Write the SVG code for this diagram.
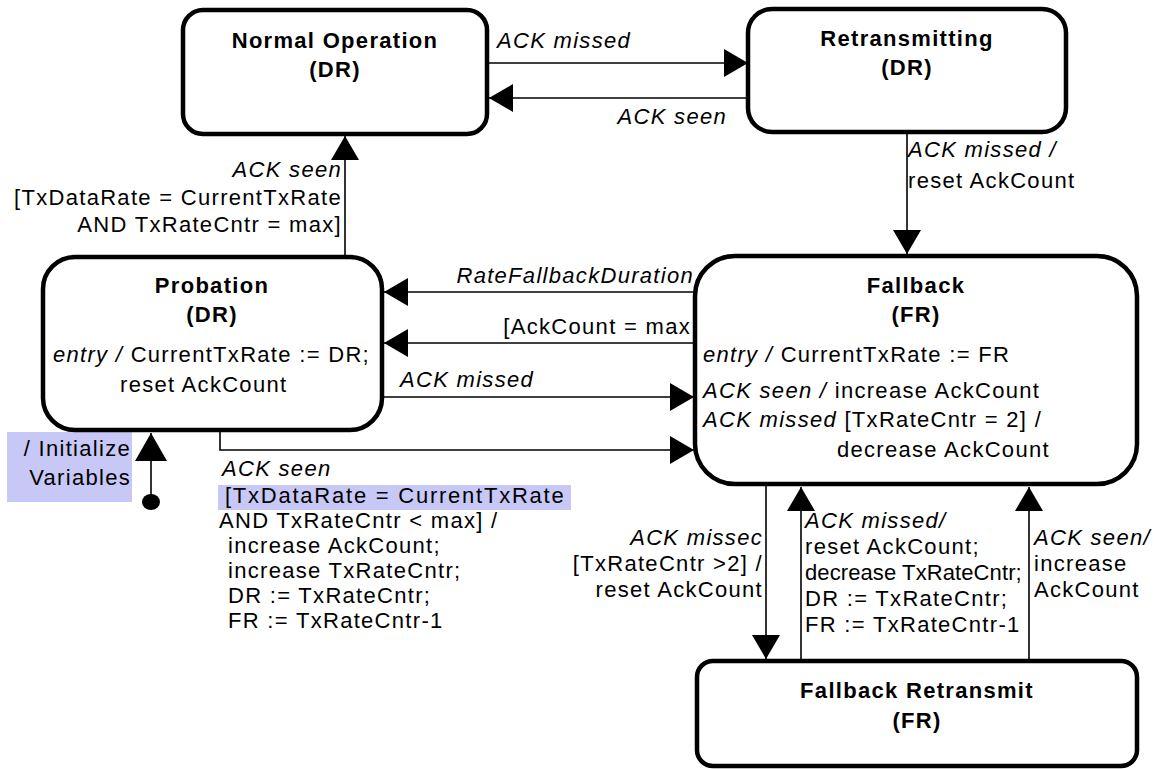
<svg xmlns="http://www.w3.org/2000/svg" width="1154" height="769" viewBox="0 0 1154 769">
<style>
.box{fill:#fff;stroke:#000;stroke-width:4.5}
.c{fill:none;stroke:#000;stroke-width:1.6}
.t{font-family:"Liberation Sans",Arial,sans-serif;font-size:22px;letter-spacing:1.3px;fill:#000}
.b{font-weight:bold}
.i{font-style:italic}
.m{text-anchor:middle}
.e{text-anchor:end}
.hl{fill:#c8c8f6}
</style>
<defs>
<marker id="ah" markerUnits="userSpaceOnUse" viewBox="0 0 24 28" markerWidth="24" markerHeight="28" refX="24" refY="14" orient="auto">
<path d="M0,0 L24,14 L0,28 z" fill="#000"/>
</marker>
<marker id="ah2" markerUnits="userSpaceOnUse" viewBox="0 0 28 32" markerWidth="28" markerHeight="32" refX="28" refY="16" orient="auto">
<path d="M0,0 L28,16 L0,32 z" fill="#000"/>
</marker>
</defs>
<rect width="1154" height="769" fill="#fff"/>

<g id="highlights">
<rect class="hl" x="7" y="432" width="125" height="70"/>
<rect class="hl" x="218" y="485" width="353" height="25"/>
</g>

<g id="connectors">
<path class="c" d="M487,63 H748" marker-end="url(#ah)"/>
<path class="c" d="M748,98 H489" marker-end="url(#ah)"/>
<path class="c" d="M907,132 V254" marker-end="url(#ah)"/>
<path class="c" d="M345,257 V136" marker-end="url(#ah)"/>
<path class="c" d="M695,292 H384" marker-end="url(#ah)"/>
<path class="c" d="M695,343 H384" marker-end="url(#ah)"/>
<path class="c" d="M382,397 H694" marker-end="url(#ah)"/>
<path class="c" d="M220,430 V450 H694" marker-end="url(#ah)"/>
<path class="c" d="M766,484 V659" marker-end="url(#ah)"/>
<path class="c" d="M801,661 V487" marker-end="url(#ah)"/>
<path class="c" d="M1029,661 V487" marker-end="url(#ah)"/>
<path class="c" d="M151,502 V433" marker-end="url(#ah2)"/>
<ellipse cx="151" cy="502" rx="9" ry="8" fill="#000"/>
</g>

<g id="labels">
<text class="t i" x="497" y="48">ACK missed</text>
<text class="t i e" x="727" y="124">ACK seen</text>
<text class="t i" x="908" y="157">ACK missed /</text>
<text class="t" x="908" y="188">reset AckCount</text>
<text class="t i e" x="342" y="177">ACK seen</text>
<text class="t e" x="342" y="205">[TxDataRate = CurrentTxRate</text>
<text class="t e" x="342" y="232">AND TxRateCntr = max]</text>
<text class="t i e" x="694" y="283">RateFallbackDuration</text>
<text class="t e" x="691" y="334">[AckCount = max</text>
<text class="t i" x="400" y="387">ACK missed</text>
<text class="t e" x="131" y="456">/ Initialize</text>
<text class="t e" x="131" y="485">Variables</text>
<text class="t i" x="222" y="476">ACK seen</text>
<text class="t" x="225" y="503" textLength="340" lengthAdjust="spacing">[TxDataRate = CurrentTxRate</text>
<text class="t" x="219" y="528">AND TxRateCntr &lt; max] /</text>
<text class="t" x="228" y="553">increase AckCount;</text>
<text class="t" x="228" y="578">increase TxRateCntr;</text>
<text class="t" x="228" y="603">DR := TxRateCntr;</text>
<text class="t" x="228" y="628">FR := TxRateCntr-1</text>
<text class="t i e" x="763" y="545">ACK missec</text>
<text class="t e" x="763" y="571">[TxRateCntr &gt;2]  /</text>
<text class="t e" x="763" y="597">reset AckCount</text>
<text class="t i" x="805" y="528">ACK missed/</text>
<text class="t" x="805" y="554">reset AckCount;</text>
<text class="t" x="805" y="580" style="letter-spacing:0.3px" textLength="217" lengthAdjust="spacing">decrease TxRateCntr;</text>
<text class="t" x="805" y="606">DR := TxRateCntr;</text>
<text class="t" x="805" y="632">FR := TxRateCntr-1</text>
<text class="t i" x="1034" y="545">ACK seen/</text>
<text class="t" x="1034" y="571">increase</text>
<text class="t" x="1034" y="597">AckCount</text>
</g>

<g id="normal-operation">
<rect class="box" x="183" y="10" width="304" height="124" rx="20"/>
<text class="t b m" x="335" y="48">Normal Operation</text>
<text class="t b m" x="335" y="77">(DR)</text>
</g>

<g id="retransmitting">
<rect class="box" x="748" y="9" width="318" height="123" rx="24"/>
<text class="t b m" x="907" y="46">Retransmitting</text>
<text class="t b m" x="907" y="75">(DR)</text>
</g>

<g id="probation">
<rect class="box" x="43" y="257" width="339" height="173" rx="32"/>
<text class="t b m" x="212" y="293">Probation</text>
<text class="t b m" x="212" y="322">(DR)</text>
<text class="t" x="53" y="362"><tspan class="i">entry /</tspan> CurrentTxRate := DR;</text>
<text class="t" x="120" y="392">reset AckCount</text>
</g>

<g id="fallback">
<rect class="box" x="695" y="256" width="442" height="228" rx="40"/>
<text class="t b m" x="916" y="293">Fallback</text>
<text class="t b m" x="916" y="322">(FR)</text>
<text class="t" x="703" y="362"><tspan class="i">entry /</tspan> CurrentTxRate := FR</text>
<text class="t" x="703" y="398"><tspan class="i">ACK seen /</tspan> increase AckCount</text>
<text class="t" x="703" y="427"><tspan class="i">ACK missed</tspan> [TxRateCntr = 2] /</text>
<text class="t" x="837" y="457">decrease AckCount</text>
</g>

<g id="fallback-retransmit">
<rect class="box" x="697" y="661" width="440" height="105" rx="16"/>
<text class="t b m" x="917" y="698">Fallback Retransmit</text>
<text class="t b m" x="917" y="728">(FR)</text>
</g>
</svg>
